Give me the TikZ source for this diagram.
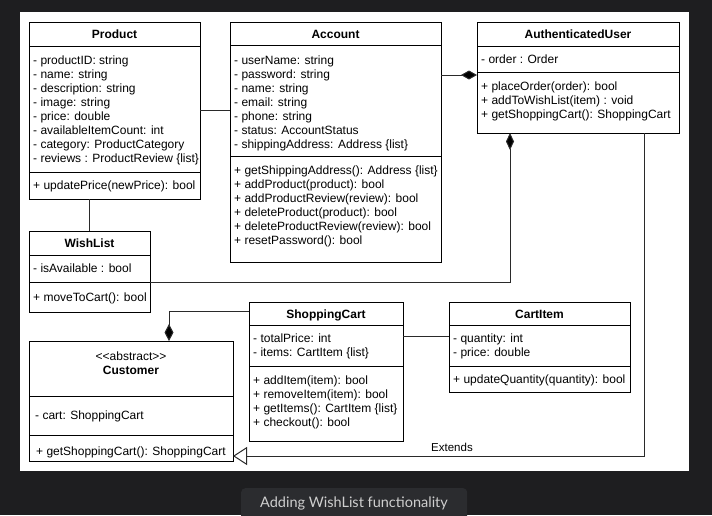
\documentclass[tikz,border=0pt]{standalone}
\usepackage{fontspec}
\setmainfont{Liberation Sans}
\newfontfamily\capfont{Lato}
\usetikzlibrary{arrows.meta,shadows}
\definecolor{bgdark}{HTML}{1E1E20}
\definecolor{capbox}{HTML}{2B2C2F}
\definecolor{captxt}{HTML}{CFCFCF}
\definecolor{edgec}{HTML}{2A2A2A}
\newcommand\classlines[4]{%
  \foreach \t [count=\i from 0] in {#4} {\node[txt] (#1-\i) at (#2, #3+14*\i) {\t};}%
}
\begin{document}
\begin{tikzpicture}[x=1pt,y=-1pt,
  cls/.style={draw=black, line width=1pt, fill=white, anchor=north west, inner sep=0pt, outer sep=0pt,
    drop shadow={shadow xshift=1.3pt, shadow yshift=-1.3pt, opacity=0.3, fill=black}},
  div/.style={draw=black, line width=1pt},
  txt/.style={anchor=base west, inner sep=0pt, font=\fontsize{12}{14}\selectfont},
  ttl/.style={anchor=base, inner sep=0pt, font=\bfseries\fontsize{12}{14}\selectfont},
  edge/.style={draw=edgec, line width=1pt},
]
\useasboundingbox (0,0) rectangle (712,515);
\fill[bgdark] (0,0) rectangle (712,515);
\fill[white] (20,12) rectangle (689,471);

% caption
\begin{scope}
\clip (0,0) rectangle (712,515);
\node[fill=capbox, rounded corners=4pt, anchor=north west, minimum width=226pt, minimum height=40pt, inner sep=0pt] (capbg) at (241,488) {};
\end{scope}
\node[anchor=base, inner sep=0pt, text=captxt, font=\capfont\fontsize{14.5}{17}\selectfont] (cap) at (354,507.5) {Adding WishList functionality};

% ---------- Product
\node[cls, minimum width=171pt, minimum height=177pt] (product) at (29,22) {};
\draw[div] (29,46) -- (200,46);
\draw[div] (29,172) -- (200,172);
\node[ttl] (product-t) at (114.5,38) {Product};
\classlines{pa}{33}{64}{- productID: string,- name: string,- description: string,- image: string,- price: double,- availableItemCount: int,- category: ProductCategory,- reviews : ProductReview \{list\}}
\classlines{pm}{33}{189}{+ updatePrice(newPrice): bool}

% ---------- Account
\node[cls, minimum width=211pt, minimum height=240pt] (account) at (230,22) {};
\draw[div] (230,45) -- (441,45);
\draw[div] (230,156) -- (441,156);
\node[ttl] (account-t) at (335.5,38) {Account};
\classlines{aa}{234}{64}{- userName: string,- password: string,- name: string,- email: string,- phone: string,- status: AccountStatus,- shippingAddress: Address \{list\}}
\classlines{am}{234}{174}{+ getShippingAddress(): Address \{list\},+ addProduct(product): bool,+ addProductReview(review): bool,+ deleteProduct(product): bool,+ deleteProductReview(review): bool,+ resetPassword(): bool}

% ---------- AuthenticatedUser
\node[cls, minimum width=202pt, minimum height=111pt] (au) at (477,22) {};
\draw[div] (477,46) -- (679,46);
\draw[div] (477,72) -- (679,72);
\node[ttl] (au-t) at (578,38) {AuthenticatedUser};
\classlines{ua}{481}{63}{- order : Order}
\classlines{um}{481}{90}{+ placeOrder(order): bool,+ addToWishList(item) : void,+ getShoppingCart(): ShoppingCart}

% ---------- WishList
\node[cls, minimum width=121pt, minimum height=81pt] (wishlist) at (29,231) {};
\draw[div] (29,255) -- (150,255);
\draw[div] (29,282) -- (150,282);
\node[ttl] (wishlist-t) at (89.5,247) {WishList};
\classlines{wa}{33}{272.5}{- isAvailable : bool}
\classlines{wm}{33}{301}{+ moveToCart(): bool}

% ---------- Customer
\node[cls, minimum width=204pt, minimum height=120pt] (customer) at (29,341) {};
\draw[div] (29,396) -- (233,396);
\draw[div] (29,435) -- (233,435);
\node[anchor=base, inner sep=0pt, font=\fontsize{12}{14}\selectfont] (customer-s) at (131,360) {\mbox{<}\mbox{<}abstract\mbox{>}\mbox{>}};
\node[ttl] (customer-t) at (131,374) {Customer};
\classlines{ca}{35}{419}{- cart: ShoppingCart}
\classlines{cm}{36}{455}{+ getShoppingCart(): ShoppingCart}

% ---------- ShoppingCart
\node[cls, minimum width=154pt, minimum height=139pt] (sc) at (249,302) {};
\draw[div] (249,325) -- (403,325);
\draw[div] (249,366) -- (403,366);
\node[ttl] (sc-t) at (326,318) {ShoppingCart};
\classlines{sa}{253}{342}{- totalPrice: int,- items: CartItem \{list\}}
\classlines{sm}{253}{384}{+ addItem(item): bool,+ removeItem(item): bool,+ getItems(): CartItem \{list\},+ checkout(): bool}

% ---------- CartItem
\node[cls, minimum width=181pt, minimum height=90pt] (ci) at (449,302) {};
\draw[div] (449,325) -- (630,325);
\draw[div] (449,366) -- (630,366);
\node[ttl] (ci-t) at (539.5,318) {CartItem};
\classlines{ia}{453}{342}{- quantity: int,- price: double}
\classlines{im}{453}{383}{+ updateQuantity(quantity): bool}

% ---------- connectors
\coordinate (acau) at (459,75);
\coordinate (wlrow) at (300,282);
\coordinate (audx) at (510,200);
\coordinate (cscol) at (169,311);
\coordinate (scrow) at (425,336);
\coordinate (extc) at (644,456);

\draw[edge] (product.east) -- (product.east -| account.west);
\draw[edge, -{Diamond[length=16pt,width=9pt,fill=black]}] (account.east |- acau) -- (au.west |- acau);
\draw[edge, -{Diamond[length=17pt,width=8pt,fill=black]}] (wishlist.east |- wlrow) -| (au.south -| audx);
\draw[edge] (product.south -| wishlist.north) -- (wishlist.north);
\draw[edge, {Diamond[length=17pt,width=9pt,fill=black]}-] (customer.north -| cscol) |- (sc.west |- cscol);
\draw[edge] (sc.east |- scrow) -- (ci.west |- scrow);
\draw[edge, -{Triangle[open,length=14pt,width=18pt,fill=white]}] (au.south -| extc) |- (customer.east |- extc);
\node[anchor=base west, inner sep=0pt, font=\fontsize{11.5}{14}\selectfont] (extlbl) at (431,451) {Extends};
\end{tikzpicture}
\end{document}
